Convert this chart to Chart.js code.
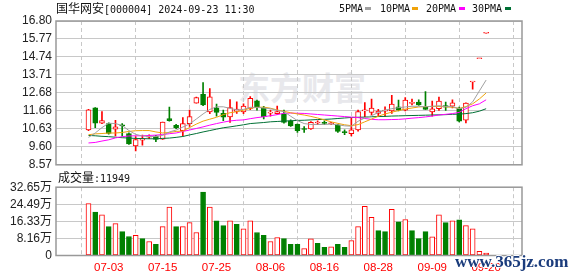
<!DOCTYPE html>
<html lang="zh-CN">

<head>
    <meta charset="UTF-8" />
    <title>国华网安 K线</title>
    <script src="https://cdn.jsdelivr.net/npm/chart.js"></script>
    <style>
        html, body { margin: 0; padding: 0; background: #fff; }
        #wrap { position: relative; width: 578px; height: 276px; overflow: hidden; background: #fff; }
        canvas { position: absolute; left: 0; }
        #kline { top: 0; z-index: 2; }
        #vol { top: 176px; z-index: 2; }
        .txt { position: absolute; white-space: pre; font: 10px "DejaVu Sans Mono", monospace; line-height: 12px; color: #111; z-index: 3; }
        .cn { font: 12px "Noto Sans CJK SC", sans-serif; line-height: 12px; }
        .mk { position: absolute; width: 6px; height: 3px; z-index: 3; }
        #wm { position: absolute; left: 238px; top: 70px; font: bold 32px "Noto Sans CJK SC", sans-serif; line-height: 32px; color: #e8e8ec; z-index: 1; }
        #site { position: absolute; left: 455px; top: 252px; font: bold 17px "Liberation Serif", serif; color: #1b3c7c; z-index: 4;
                text-shadow: 1px 0 #fff, -1px 0 #fff, 0 1px #fff, 0 -1px #fff; }
    </style>
</head>

<body>
    <div id="wrap">
        <div id="wm">东方财富</div>
        <canvas id="kline" width="578" height="176"></canvas>
        <canvas id="vol" width="578" height="100"></canvas>

        <div class="txt" style="left:56px; top:2px;"><span class="cn">国华网安</span>[000004] 2024-09-23 11:30</div>

        <div class="txt" style="left:339px; top:3px;">5PMA</div>
        <div class="mk" style="left:365px; top:7px; background:#a0a0a0;"></div>
        <div class="txt" style="left:380px; top:3px;">10PMA</div>
        <div class="mk" style="left:412px; top:7px; background:#f0a30a;"></div>
        <div class="txt" style="left:426px; top:3px;">20PMA</div>
        <div class="mk" style="left:459px; top:7px; background:#ff00ff;"></div>
        <div class="txt" style="left:472px; top:3px;">30PMA</div>
        <div class="mk" style="left:505px; top:7px; background:#007035;"></div>

        <div class="txt" style="left:58px; top:171px;"><span class="cn">成交量</span>:11949</div>
        <div id="site">www.365jz.com</div>
    </div>

    <script>
        // eixo x: rotulos de data e o indice do candle onde cada um fica
        var dateLabels = ['07-03', '07-15', '07-25', '08-06', '08-16', '08-28', '09-09', '09-20'];
        var labelIdx = [3, 11, 19, 27, 35, 43, 51, 59];

        var priceTicks = ['8.57', '9.60', '10.63', '11.66', '12.68', '13.71', '14.74', '15.77', '16.80'];
        var volTicks = ['0', '8.16万', '16.33万', '24.49万', '32.65万'];

        // OHLC (60 pregoes)
        var openP = [10.57, 11.83, 10.95, 10.93, 10.61, 10.85, 10.36, 9.65, 9.98, 10.15,
            10.23, 10.04, 11.21, 10.83, 10.52, 10.92, 12.10, 12.61, 11.59, 11.83,
            11.51, 11.31, 11.62, 11.59, 11.80, 12.23, 11.83, 11.53, 11.49, 11.48,
            11.08, 10.89, 10.62, 10.63, 10.96, 10.96, 10.92, 10.86, 10.43, 10.35,
            10.57, 11.66, 11.57, 11.51, 11.64, 11.65, 11.89, 11.70, 12.09, 12.16,
            11.87, 11.59, 11.78, 11.96, 11.93, 11.82, 11.12, 13.31, 14.64, 16.10];
        var highP = [11.74, 11.85, 11.61, 10.97, 11.12, 10.93, 10.40, 10.18, 10.27, 10.29,
            10.26, 11.02, 11.87, 10.88, 11.27, 11.70, 12.44, 13.27, 12.93, 12.04,
            11.70, 12.30, 12.17, 12.06, 12.48, 12.27, 11.91, 11.70, 11.93, 11.70,
            11.14, 10.92, 10.76, 11.04, 11.08, 11.08, 11.00, 10.88, 10.57, 11.23,
            11.70, 12.13, 12.33, 11.74, 11.89, 12.55, 12.27, 12.42, 12.33, 12.29,
            12.76, 12.21, 12.44, 12.16, 12.29, 11.87, 12.12, 13.31, 14.64, 16.10];
        var lowP = [10.52, 10.70, 10.93, 10.33, 10.23, 10.21, 9.74, 9.36, 9.70, 10.06,
            9.89, 10.02, 11.07, 10.64, 10.23, 10.76, 12.10, 11.95, 11.50, 11.36,
            11.10, 11.00, 11.51, 11.49, 11.72, 11.70, 11.20, 11.36, 11.45, 10.95,
            10.76, 10.42, 10.42, 10.60, 10.86, 10.86, 10.86, 10.42, 10.29, 10.23,
            10.50, 11.33, 11.42, 11.36, 11.36, 11.51, 11.65, 11.65, 11.99, 11.97,
            11.74, 11.36, 11.68, 11.68, 11.82, 11.03, 10.97, 12.90, 14.64, 16.10];
        var closeP = [11.72, 10.95, 11.10, 10.36, 10.74, 10.80, 9.76, 10.02, 10.00, 10.20,
            10.02, 11.02, 11.10, 10.69, 10.93, 11.33, 12.42, 11.99, 12.46, 11.57,
            11.29, 11.85, 11.76, 11.93, 12.38, 11.89, 11.33, 11.56, 11.61, 11.00,
            10.80, 10.53, 10.59, 11.00, 10.98, 10.94, 10.94, 10.48, 10.41, 10.57,
            11.61, 11.70, 11.82, 11.65, 11.66, 12.04, 11.70, 12.27, 12.11, 12.00,
            11.74, 11.78, 12.21, 11.87, 12.12, 11.06, 12.10, 13.31, 14.64, 16.10];

        // medias moveis
        var ma5 = [10.14, 10.39, 10.70, 10.95, 10.93, 10.82, 10.53, 10.31, 10.22, 10.19,
            10.19, 10.25, 10.45, 10.56, 10.73, 10.91, 11.19, 11.48, 11.74, 11.89,
            11.89, 11.80, 11.71, 11.74, 11.86, 11.86, 11.82, 11.78, 11.69, 11.61,
            11.35, 11.10, 10.93, 10.88, 10.88, 10.88, 10.90, 10.86, 10.80, 10.78,
            11.06, 11.25, 11.38, 11.56, 11.70, 11.78, 11.84, 11.88, 11.92, 11.92,
            11.89, 11.92, 11.95, 11.90, 11.90, 11.78, 11.86, 12.17, 12.80, 13.42];
        var ma10 = [10.29, 10.34, 10.36, 10.39, 10.39, 10.42, 10.48, 10.52, 10.53, 10.53,
            10.45, 10.39, 10.42, 10.48, 10.50, 10.70, 10.90, 11.07, 11.18, 11.29,
            11.44, 11.55, 11.61, 11.69, 11.81, 11.86, 11.87, 11.81, 11.71, 11.63,
            11.55, 11.48, 11.42, 11.34, 11.25, 11.14, 11.03, 10.94, 10.86, 10.81,
            10.87, 11.03, 11.19, 11.35, 11.48, 11.58, 11.67, 11.76, 11.82, 11.88,
            11.90, 11.91, 11.91, 11.89, 11.86, 11.80, 11.90, 12.06, 12.34, 12.68];
        var ma20 = [9.82, 9.85, 9.93, 10.00, 10.11, 10.18, 10.22, 10.23, 10.23, 10.25,
            10.27, 10.30, 10.35, 10.39, 10.48, 10.56, 10.65, 10.74, 10.84, 10.93,
            11.01, 11.08, 11.12, 11.14, 11.21, 11.27, 11.32, 11.38, 11.44, 11.52,
            11.53, 11.52, 11.51, 11.48, 11.45, 11.42, 11.39, 11.36, 11.33, 11.30,
            11.27, 11.22, 11.17, 11.15, 11.15, 11.16, 11.17, 11.20, 11.24, 11.27,
            11.31, 11.36, 11.42, 11.46, 11.50, 11.57, 11.78, 11.95, 12.06, 12.29];
        var ma30 = [10.25, 10.23, 10.20, 10.18, 10.15, 10.12, 10.10, 10.08, 10.07, 10.06,
            10.06, 10.08, 10.10, 10.14, 10.19, 10.28, 10.36, 10.45, 10.53, 10.61,
            10.69, 10.74, 10.80, 10.86, 10.93, 10.96, 10.99, 11.03, 11.05, 11.07,
            11.09, 11.11, 11.12, 11.14, 11.16, 11.17, 11.19, 11.22, 11.25, 11.28,
            11.29, 11.30, 11.32, 11.33, 11.34, 11.36, 11.37, 11.38, 11.39, 11.40,
            11.41, 11.42, 11.43, 11.44, 11.46, 11.47, 11.50, 11.55, 11.64, 11.78];

        // volume em 万 e cor da barra (1 = vermelho, 0 = verde)
        var volume = [24.8, 20.8, 19.4, 13.8, 15.2, 11.4, 9.1, 9.6, 8.1, 6.7,
            5.3, 13.8, 23.2, 13.8, 13.8, 15.7, 11.0, 30.3, 23.2, 16.6,
            14.3, 16.6, 14.9, 12.8, 16.6, 11.0, 9.6, 6.7, 8.6, 8.1,
            5.3, 5.3, 3.3, 8.0, 5.8, 3.9, 4.2, 5.3, 3.9, 7.1,
            13.8, 23.5, 18.3, 11.9, 11.4, 22.1, 16.1, 17.2, 11.9, 8.1,
            11.4, 8.9, 19.4, 15.7, 16.6, 17.1, 14.3, 12.7, 2.0, 1.19];
        var volUp = [1, 0, 1, 0, 1, 0, 0, 1, 0, 1,
            0, 1, 1, 0, 1, 1, 1, 0, 1, 0,
            0, 1, 0, 1, 1, 0, 0, 1, 1, 0,
            0, 0, 1, 1, 0, 0, 1, 0, 0, 1,
            1, 1, 1, 0, 0, 1, 0, 1, 0, 0,
            0, 1, 1, 0, 1, 0, 1, 1, 1, 1];

        var RED = '#ff0000';
        var GREEN = '#008000';

        Chart.defaults.font.family = '"Liberation Sans", "Noto Sans CJK SC", sans-serif';
        Chart.defaults.font.size = 12;
        Chart.defaults.color = '#222';

        var idx = openP.map(function (v, i) { return i; });
        var up = idx.map(function (i) { return closeP[i] >= openP[i]; });

        // moldura cinza em volta da area do grafico
        var moldura = {
            id: 'moldura',
            afterDraw: function (chart) {
                var a = chart.chartArea;
                var ctx = chart.ctx;
                ctx.save();
                ctx.strokeStyle = '#999';
                ctx.lineWidth = 1.5;
                ctx.strokeRect(a.left, a.top, a.right - a.left, a.bottom - a.top);
                ctx.restore();
            }
        };

        function eixoX(comRotulo) {
            return {
                type: 'linear',
                min: -0.5,
                max: 60,
                afterBuildTicks: function (s) {
                    s.ticks = labelIdx.map(function (v) { return { value: v }; });
                },
                afterFit: function (s) { s.height = comRotulo ? 20.5 : 0; },
                grid: { color: '#c8c8c8', drawTicks: false },
                border: { display: false, dash: [4, 3] },
                ticks: {
                    display: comRotulo,
                    autoSkip: false,
                    maxRotation: 0,
                    padding: 5,
                    color: RED,
                    font: { size: 11.5 },
                    callback: function (v, i) { return dateLabels[i]; }
                }
            };
        }

        function eixoY(min, max, n, rotulos) {
            return {
                min: min,
                max: max,
                afterBuildTicks: function (s) {
                    var t = [];
                    for (var k = 0; k <= n; k++) t.push({ value: min + k * (max - min) / n });
                    s.ticks = t;
                },
                afterFit: function (s) { s.width = 56; },
                grid: { color: '#c8c8c8', drawTicks: false },
                border: { display: false },
                ticks: {
                    autoSkip: false,
                    padding: 4,
                    color: '#222',
                    callback: function (v, i) { return rotulos[i]; }
                }
            };
        }

        function linhaMA(nome, valores, cor) {
            return {
                type: 'line',
                label: nome,
                order: 1,
                data: idx.map(function (i) { return { x: i, y: valores[i] }; }),
                borderColor: cor,
                borderWidth: 1,
                pointRadius: 0,
                tension: 0,
                fill: false
            };
        }

        new Chart(document.getElementById('kline').getContext('2d'), {
            type: 'bar',
            data: {
                datasets: [
                    {
                        label: 'sombra',
                        order: 3,
                        grouped: false,
                        barThickness: 1,
                        data: idx.map(function (i) { return { x: i, y: [lowP[i], highP[i]] }; }),
                        backgroundColor: idx.map(function (i) { return up[i] ? RED : GREEN; })
                    },
                    {
                        label: 'corpo',
                        order: 2,
                        grouped: false,
                        barThickness: 5,
                        minBarLength: 1,
                        borderWidth: 1,
                        borderSkipped: false,
                        data: idx.map(function (i) { return { x: i, y: [openP[i], closeP[i]] }; }),
                        backgroundColor: idx.map(function (i) { return up[i] ? '#ffffff' : GREEN; }),
                        borderColor: idx.map(function (i) { return up[i] ? RED : GREEN; })
                    },
                    linhaMA('5PMA', ma5, '#a0a0a0'),
                    linhaMA('10PMA', ma10, '#f0a30a'),
                    linhaMA('20PMA', ma20, '#ff00ff'),
                    linhaMA('30PMA', ma30, '#007035')
                ]
            },
            options: {
                responsive: false,
                animation: false,
                layout: { padding: { top: 21, right: 56, bottom: 9.5, left: 0 } },
                plugins: { legend: { display: false }, tooltip: { enabled: false } },
                scales: {
                    x: eixoX(false),
                    y: eixoY(8.57, 16.80, 8, priceTicks)
                }
            },
            plugins: [moldura]
        });

        new Chart(document.getElementById('vol').getContext('2d'), {
            type: 'bar',
            data: {
                datasets: [{
                    label: '成交量',
                    barThickness: 5,
                    borderWidth: 1,
                    borderSkipped: false,
                    data: idx.map(function (i) { return { x: i, y: volume[i] }; }),
                    backgroundColor: idx.map(function (i) { return volUp[i] ? '#ffffff' : GREEN; }),
                    borderColor: idx.map(function (i) { return volUp[i] ? RED : GREEN; })
                }]
            },
            options: {
                responsive: false,
                animation: false,
                layout: { padding: { top: 10, right: 56, bottom: 0, left: 0 } },
                plugins: { legend: { display: false }, tooltip: { enabled: false } },
                scales: {
                    x: eixoX(true),
                    y: eixoY(0, 32.65, 4, volTicks)
                }
            },
            plugins: [moldura]
        });
    </script>
</body>

</html>
